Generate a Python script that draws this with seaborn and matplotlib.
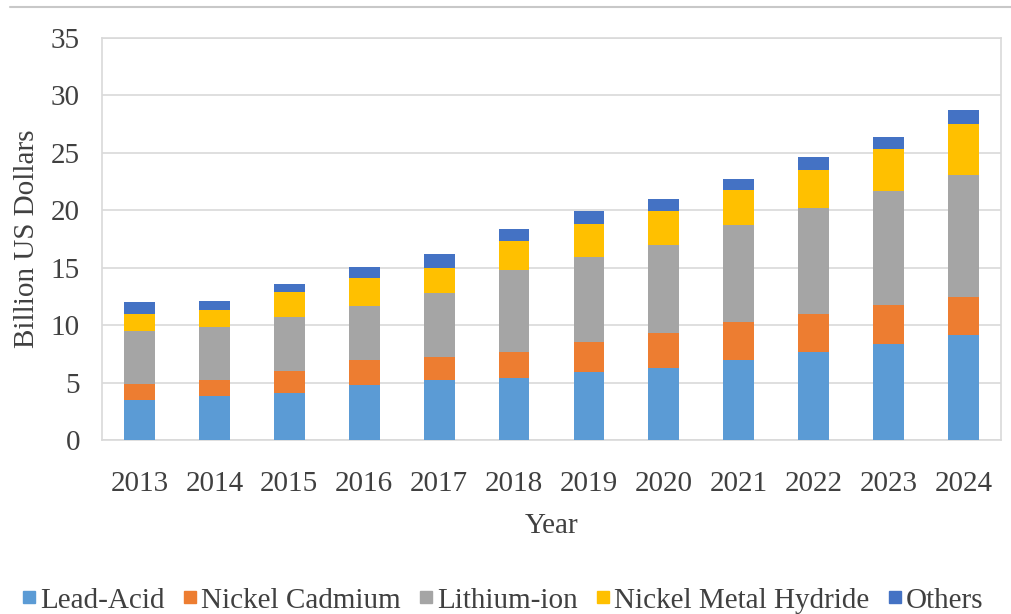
import matplotlib
matplotlib.use("Agg")
import matplotlib.pyplot as plt
from matplotlib.lines import Line2D
import numpy as np
import pandas as pd
import seaborn as sns

years = ["2013", "2014", "2015", "2016", "2017", "2018",
         "2019", "2020", "2021", "2022", "2023", "2024"]
lead_acid = [3.5, 3.8, 4.1, 4.8, 5.2, 5.4, 5.95, 6.25, 7.0, 7.7, 8.4, 9.15]
nickel_cadmium = [1.4, 1.4, 1.9, 2.2, 2.05, 2.3, 2.6, 3.05, 3.3, 3.3, 3.35, 3.3]
lithium_ion = [4.6, 4.6, 4.7, 4.7, 5.55, 7.1, 7.4, 7.7, 8.4, 9.2, 9.95, 10.6]
nickel_metal_hydride = [1.5, 1.5, 2.2, 2.4, 2.2, 2.5, 2.9, 2.9, 3.05, 3.35, 3.6, 4.45]
others = [1.0, 0.8, 0.7, 1.0, 1.2, 1.05, 1.1, 1.1, 1.0, 1.1, 1.1, 1.2]

series = ["Lead-Acid", "Nickel Cadmium", "Lithium-ion", "Nickel Metal Hydride", "Others"]
colors = ["#5B9BD5", "#ED7D31", "#A5A5A5", "#FFC000", "#4472C4"]
values = [lead_acid, nickel_cadmium, lithium_ion, nickel_metal_hydride, others]

sns.set_theme(style="white")
plt.rcParams["font.family"] = ["Liberation Serif", "DejaVu Serif"]
text_color = "#404040"
grid_color = "#d9d9d9"

fig = plt.figure(figsize=(10.11, 6.14), dpi=100)
ax = fig.add_axes([0.101, 0.2834, 0.889, 0.6546])

bottom = np.zeros(len(years))
for name, vals, col in zip(series, values, colors):
    df = pd.DataFrame({"Year": years, "Value": vals})
    sns.barplot(data=df, x="Year", y="Value", order=years, color=col,
                width=0.41, bottom=bottom.copy(), errorbar=None,
                saturation=1, ax=ax, zorder=3, linewidth=0)
    bottom += np.array(vals)

ax.set_xlim(-0.5, len(years) - 0.5)
ax.set_ylim(0, 35)
ax.set_yticks(np.arange(0, 36, 5))
ax.yaxis.grid(True, color=grid_color, linewidth=1.2, zorder=0)
ax.xaxis.grid(False)
for side in ["top", "right", "left", "bottom"]:
    ax.spines[side].set_visible(True)
    ax.spines[side].set_color(grid_color)
    ax.spines[side].set_linewidth(1.2)
ax.tick_params(axis="both", length=0, labelsize=21, labelcolor=text_color)
ax.tick_params(axis="x", pad=22)
ax.tick_params(axis="y", pad=16)

ax.set_xlabel("Year", fontsize=21, color=text_color, labelpad=12)
ax.set_ylabel("Billion US Dollars", fontsize=21, color=text_color, labelpad=8)

# thin rule across the top of the figure
fig.add_artist(Line2D([0.01, 1.0], [0.988, 0.988], color="#c8c8c8",
                      linewidth=1.5, transform=fig.transFigure))

handles = [Line2D([0], [0], marker="s", linestyle="none", markersize=9,
                  markerfacecolor=c, markeredgecolor=c) for c in colors]
leg = fig.legend(handles, series, loc="center", bbox_to_anchor=(0.497, 0.022),
                 ncol=5, frameon=False, fontsize=21, handlelength=0.5,
                 handletextpad=0.15, columnspacing=0.6, borderaxespad=0)
for t in leg.get_texts():
    t.set_color(text_color)

fig.savefig("out.png", dpi=100)
